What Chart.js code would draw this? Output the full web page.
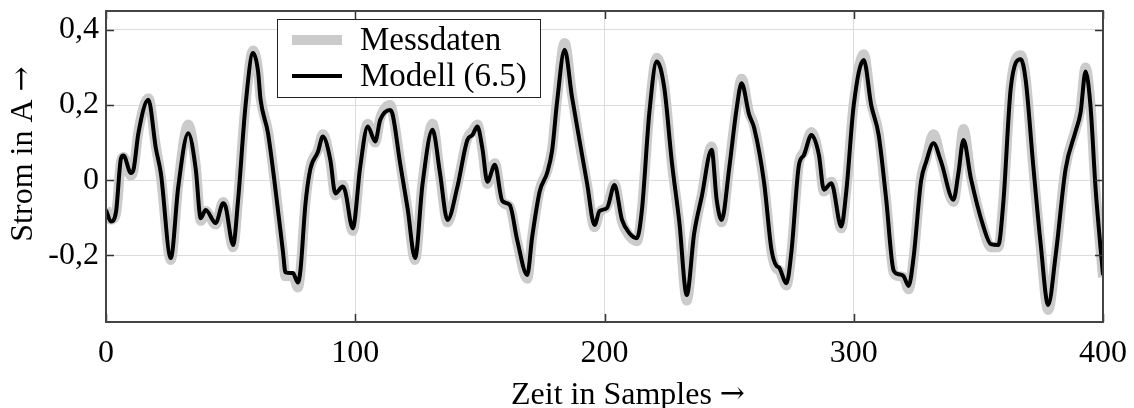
<!DOCTYPE html>
<html>
<head>
<meta charset="utf-8">
<script src="https://cdn.jsdelivr.net/npm/chart.js@4"></script>
<style>
  html, body { margin: 0; padding: 0; background: #fff; }
</style>
</head>
<body>
<canvas id="chart" width="1134" height="408"></canvas>
<script>
// sample index of each read-off point
const samples = [
  0, 2, 4, 6, 7, 10, 11, 13, 17, 20, 22, 26, 29, 33, 36, 38, 40, 44, 47, 48,
  51, 53, 56, 59, 61, 62, 65, 68, 71, 72, 75, 77, 78, 80, 82, 85, 87, 90, 92, 95,
  96, 99, 102, 105, 108, 110, 114, 115, 118, 121, 124, 127, 131, 134, 137, 141, 145, 147, 149, 151,
  153, 156, 159, 162, 165, 169, 171, 174, 177, 179, 181, 184, 187, 190, 193, 196, 198, 201, 204, 207,
  210, 213, 215, 218, 221, 224, 227, 230, 233, 236, 239, 243, 245, 247, 250, 253, 255, 258, 260, 264,
  267, 269, 270, 273, 275, 278, 280, 283, 286, 288, 291, 295, 297, 300, 304, 307, 310, 313, 316, 318,
  320, 322, 324, 327, 329, 332, 335, 340, 342, 344, 347, 352, 355, 358, 360, 363, 367, 369, 372, 375,
  378, 381, 385, 389, 391, 393, 395, 397, 400
]

const modell = [
  -0.079, -0.110, -0.085, 0.058, 0.066, 0.019, 0.027, 0.125, 0.214, 0.085, 0.019, -0.207, -0.017, 0.125, 0.030, -0.101, -0.079, -0.114, -0.061, -0.070,
  -0.172, -0.052, 0.200, 0.338, 0.290, 0.215, 0.125, -0.025, -0.190, -0.245, -0.247, -0.272, -0.240, -0.065, 0.030, 0.075, 0.116, 0.054, -0.035, -0.017,
  -0.030, -0.128, 0.036, 0.143, 0.103, 0.160, 0.187, 0.175, 0.045, -0.075, -0.207, -0.010, 0.134, 0.019, -0.106, -0.017, 0.107, 0.120, 0.143, 0.085,
  -0.004, 0.041, -0.055, -0.066, -0.160, -0.252, -0.150, -0.030, 0.020, 0.080, 0.210, 0.347, 0.220, 0.105, -0.008, -0.119, -0.082, -0.074, -0.013, -0.105,
  -0.141, -0.154, -0.080, 0.180, 0.316, 0.245, 0.050, -0.110, -0.305, -0.140, -0.044, 0.081, -0.052, -0.106, 0.030, 0.190, 0.258, 0.175, 0.140, -0.005,
  -0.185, -0.228, -0.232, -0.274, -0.190, 0.040, 0.067, 0.120, 0.068, -0.025, -0.008, -0.123, -0.030, 0.200, 0.320, 0.200, 0.120, -0.050, -0.240, -0.250,
  -0.255, -0.281, -0.205, -0.002, 0.048, 0.098, 0.050, -0.052, 0.019, 0.107, 0.005, -0.123, -0.170, -0.172, -0.060, 0.245, 0.322, 0.265, 0.040, -0.170,
  -0.332, -0.200, 0.030, 0.130, 0.180, 0.289, 0.196, -0.020, -0.252
]

const messdaten = [
  -0.075, -0.105, -0.090, 0.050, 0.062, 0.012, 0.025, 0.130, 0.218, 0.090, 0.010, -0.212, -0.010, 0.148, 0.040, -0.108, -0.082, -0.118, -0.058, -0.075,
  -0.178, -0.050, 0.205, 0.345, 0.295, 0.220, 0.130, -0.020, -0.195, -0.255, -0.255, -0.285, -0.245, -0.060, 0.035, 0.080, 0.122, 0.050, -0.040, -0.012,
  -0.035, -0.135, 0.040, 0.150, 0.100, 0.165, 0.200, 0.180, 0.050, -0.080, -0.212, -0.005, 0.150, 0.015, -0.112, -0.012, 0.112, 0.130, 0.148, 0.080,
  -0.010, 0.045, -0.058, -0.070, -0.165, -0.262, -0.150, -0.025, 0.025, 0.085, 0.220, 0.365, 0.225, 0.100, -0.012, -0.125, -0.085, -0.070, -0.010, -0.110,
  -0.148, -0.162, -0.078, 0.185, 0.326, 0.250, 0.045, -0.115, -0.320, -0.145, -0.040, 0.090, -0.050, -0.112, 0.035, 0.195, 0.270, 0.180, 0.145, -0.010,
  -0.190, -0.235, -0.238, -0.280, -0.192, 0.045, 0.075, 0.128, 0.065, -0.030, -0.004, -0.128, -0.025, 0.205, 0.335, 0.205, 0.125, -0.055, -0.245, -0.255,
  -0.258, -0.290, -0.208, 0.005, 0.055, 0.122, 0.055, -0.058, 0.025, 0.136, 0.010, -0.128, -0.178, -0.178, -0.055, 0.250, 0.332, 0.270, 0.035, -0.178,
  -0.345, -0.205, 0.035, 0.135, 0.190, 0.300, 0.200, -0.025, -0.258
]

const xTicks = [0, 100, 200, 300, 400]
const yTicks = [-0.2, 0, 0.2, 0.4]

const serif = "'Liberation Serif', 'DejaVu Serif', serif"

function fmt(v) {
  return v === 0 ? '0' : v.toFixed(1).replace('.', ',')
}

// text followed by a long arrow, like \rightarrow
function titleWithArrow(ctx, text, cx, cy) {
  ctx.font = '32px ' + serif
  const w1 = ctx.measureText(text + ' ').width
  ctx.font = '30px "DejaVu Serif"'
  const w2 = ctx.measureText('\u2192').width
  let x = cx - (w1 + w2) / 2
  ctx.textAlign = 'left'
  ctx.font = '32px ' + serif
  ctx.fillText(text + ' ', x, cy)
  ctx.font = '30px "DejaVu Serif"'
  ctx.fillText('\u2192', x + w1, cy - 1)
}

// frame, inward ticks, axis titles and the boxed legend
const decorations = {
  id: 'decorations',
  afterDraw(chart) {
    const ctx = chart.ctx
    const a = chart.chartArea
    const xs = chart.scales.x
    const ys = chart.scales.y
    const tl = 8

    ctx.save()
    ctx.strokeStyle = '#333'
    ctx.lineWidth = 1.5
    ctx.beginPath()
    xTicks.forEach(t => {
      const px = Math.round(xs.getPixelForValue(t)) + 0.5
      ctx.moveTo(px, a.top); ctx.lineTo(px, a.top + tl)
      ctx.moveTo(px, a.bottom); ctx.lineTo(px, a.bottom - tl)
    })
    yTicks.forEach(t => {
      const py = Math.round(ys.getPixelForValue(t)) + 0.5
      ctx.moveTo(a.left, py); ctx.lineTo(a.left + tl, py)
      ctx.moveTo(a.right, py); ctx.lineTo(a.right - tl, py)
    })
    ctx.stroke()
    ctx.lineWidth = 2
    ctx.strokeStyle = '#444'
    ctx.strokeRect(a.left, a.top, a.right - a.left, a.bottom - a.top)

    // axis titles
    ctx.fillStyle = '#000'
    ctx.textBaseline = 'alphabetic'
    titleWithArrow(ctx, 'Zeit in Samples', 628, 404)
    ctx.translate(32, 154)
    ctx.rotate(-Math.PI / 2)
    titleWithArrow(ctx, 'Strom in A', 0, 0)
    ctx.restore()

    // legend
    const ds = chart.data.datasets
    const box = { x: 277, y: 19, w: 263, h: 78 }
    ctx.save()
    ctx.fillStyle = '#fff'
    ctx.fillRect(box.x, box.y, box.w, box.h)
    ctx.strokeStyle = '#222'
    ctx.lineWidth = 1
    ctx.strokeRect(box.x + 0.5, box.y + 0.5, box.w, box.h)
    const rows = [40, 76]
    ctx.font = '33px ' + serif
    ctx.textAlign = 'left'
    ctx.textBaseline = 'alphabetic'
    ds.forEach((d, i) => {
      ctx.strokeStyle = d.borderColor
      ctx.lineWidth = d.borderWidth
      ctx.beginPath()
      ctx.moveTo(292, rows[i])
      ctx.lineTo(342, rows[i])
      ctx.stroke()
      ctx.fillStyle = '#000'
      ctx.fillText(d.label, 360, rows[i] + 10)
    })
    ctx.restore()
  }
}

const ctx = document.getElementById('chart').getContext('2d')

const chart = new Chart(ctx, {
  type: 'line',
  data: {
    datasets: [
      {
        label: 'Messdaten',
        data: samples.map((s, i) => ({ x: s, y: messdaten[i] })),
        borderColor: '#cbcbcb',
        borderWidth: 10,
        pointRadius: 0,
        cubicInterpolationMode: 'monotone',
        order: 2
      },
      {
        label: 'Modell (6.5)',
        data: samples.map((s, i) => ({ x: s, y: modell[i] })),
        borderColor: '#000',
        borderWidth: 4,
        pointRadius: 0,
        cubicInterpolationMode: 'monotone',
        order: 1
      }
    ]
  },
  options: {
    responsive: false,
    animation: false,
    events: [],
    layout: { padding: { top: 11, right: 31, left: 0, bottom: 0 } },
    plugins: {
      legend: { display: false },
      tooltip: { enabled: false }
    },
    scales: {
      x: {
        type: 'linear',
        min: 0,
        max: 400,
        afterBuildTicks: scale => { scale.ticks = xTicks.map(v => ({ value: v })) },
        afterFit: scale => {
          scale.height = 86
          scale.paddingLeft = 0
          scale.paddingRight = 0
        },
        grid: { color: '#dcdcdc', lineWidth: 1, drawTicks: false },
        border: { display: false },
        ticks: {
          padding: 12,
          maxRotation: 0,
          color: '#000',
          font: { family: serif, size: 32 }
        }
      },
      y: {
        min: -0.377,
        max: 0.45,
        afterBuildTicks: scale => { scale.ticks = yTicks.map(v => ({ value: v })) },
        afterFit: scale => {
          scale.width = 106
          scale.paddingTop = 0
          scale.paddingBottom = 0
        },
        grid: { color: '#dcdcdc', lineWidth: 1, drawTicks: false },
        border: { display: false },
        ticks: {
          padding: 7,
          color: '#000',
          font: { family: serif, size: 32 },
          callback: v => fmt(v)
        }
      }
    }
  },
  plugins: [decorations]
})
</script>
</body>
</html>
